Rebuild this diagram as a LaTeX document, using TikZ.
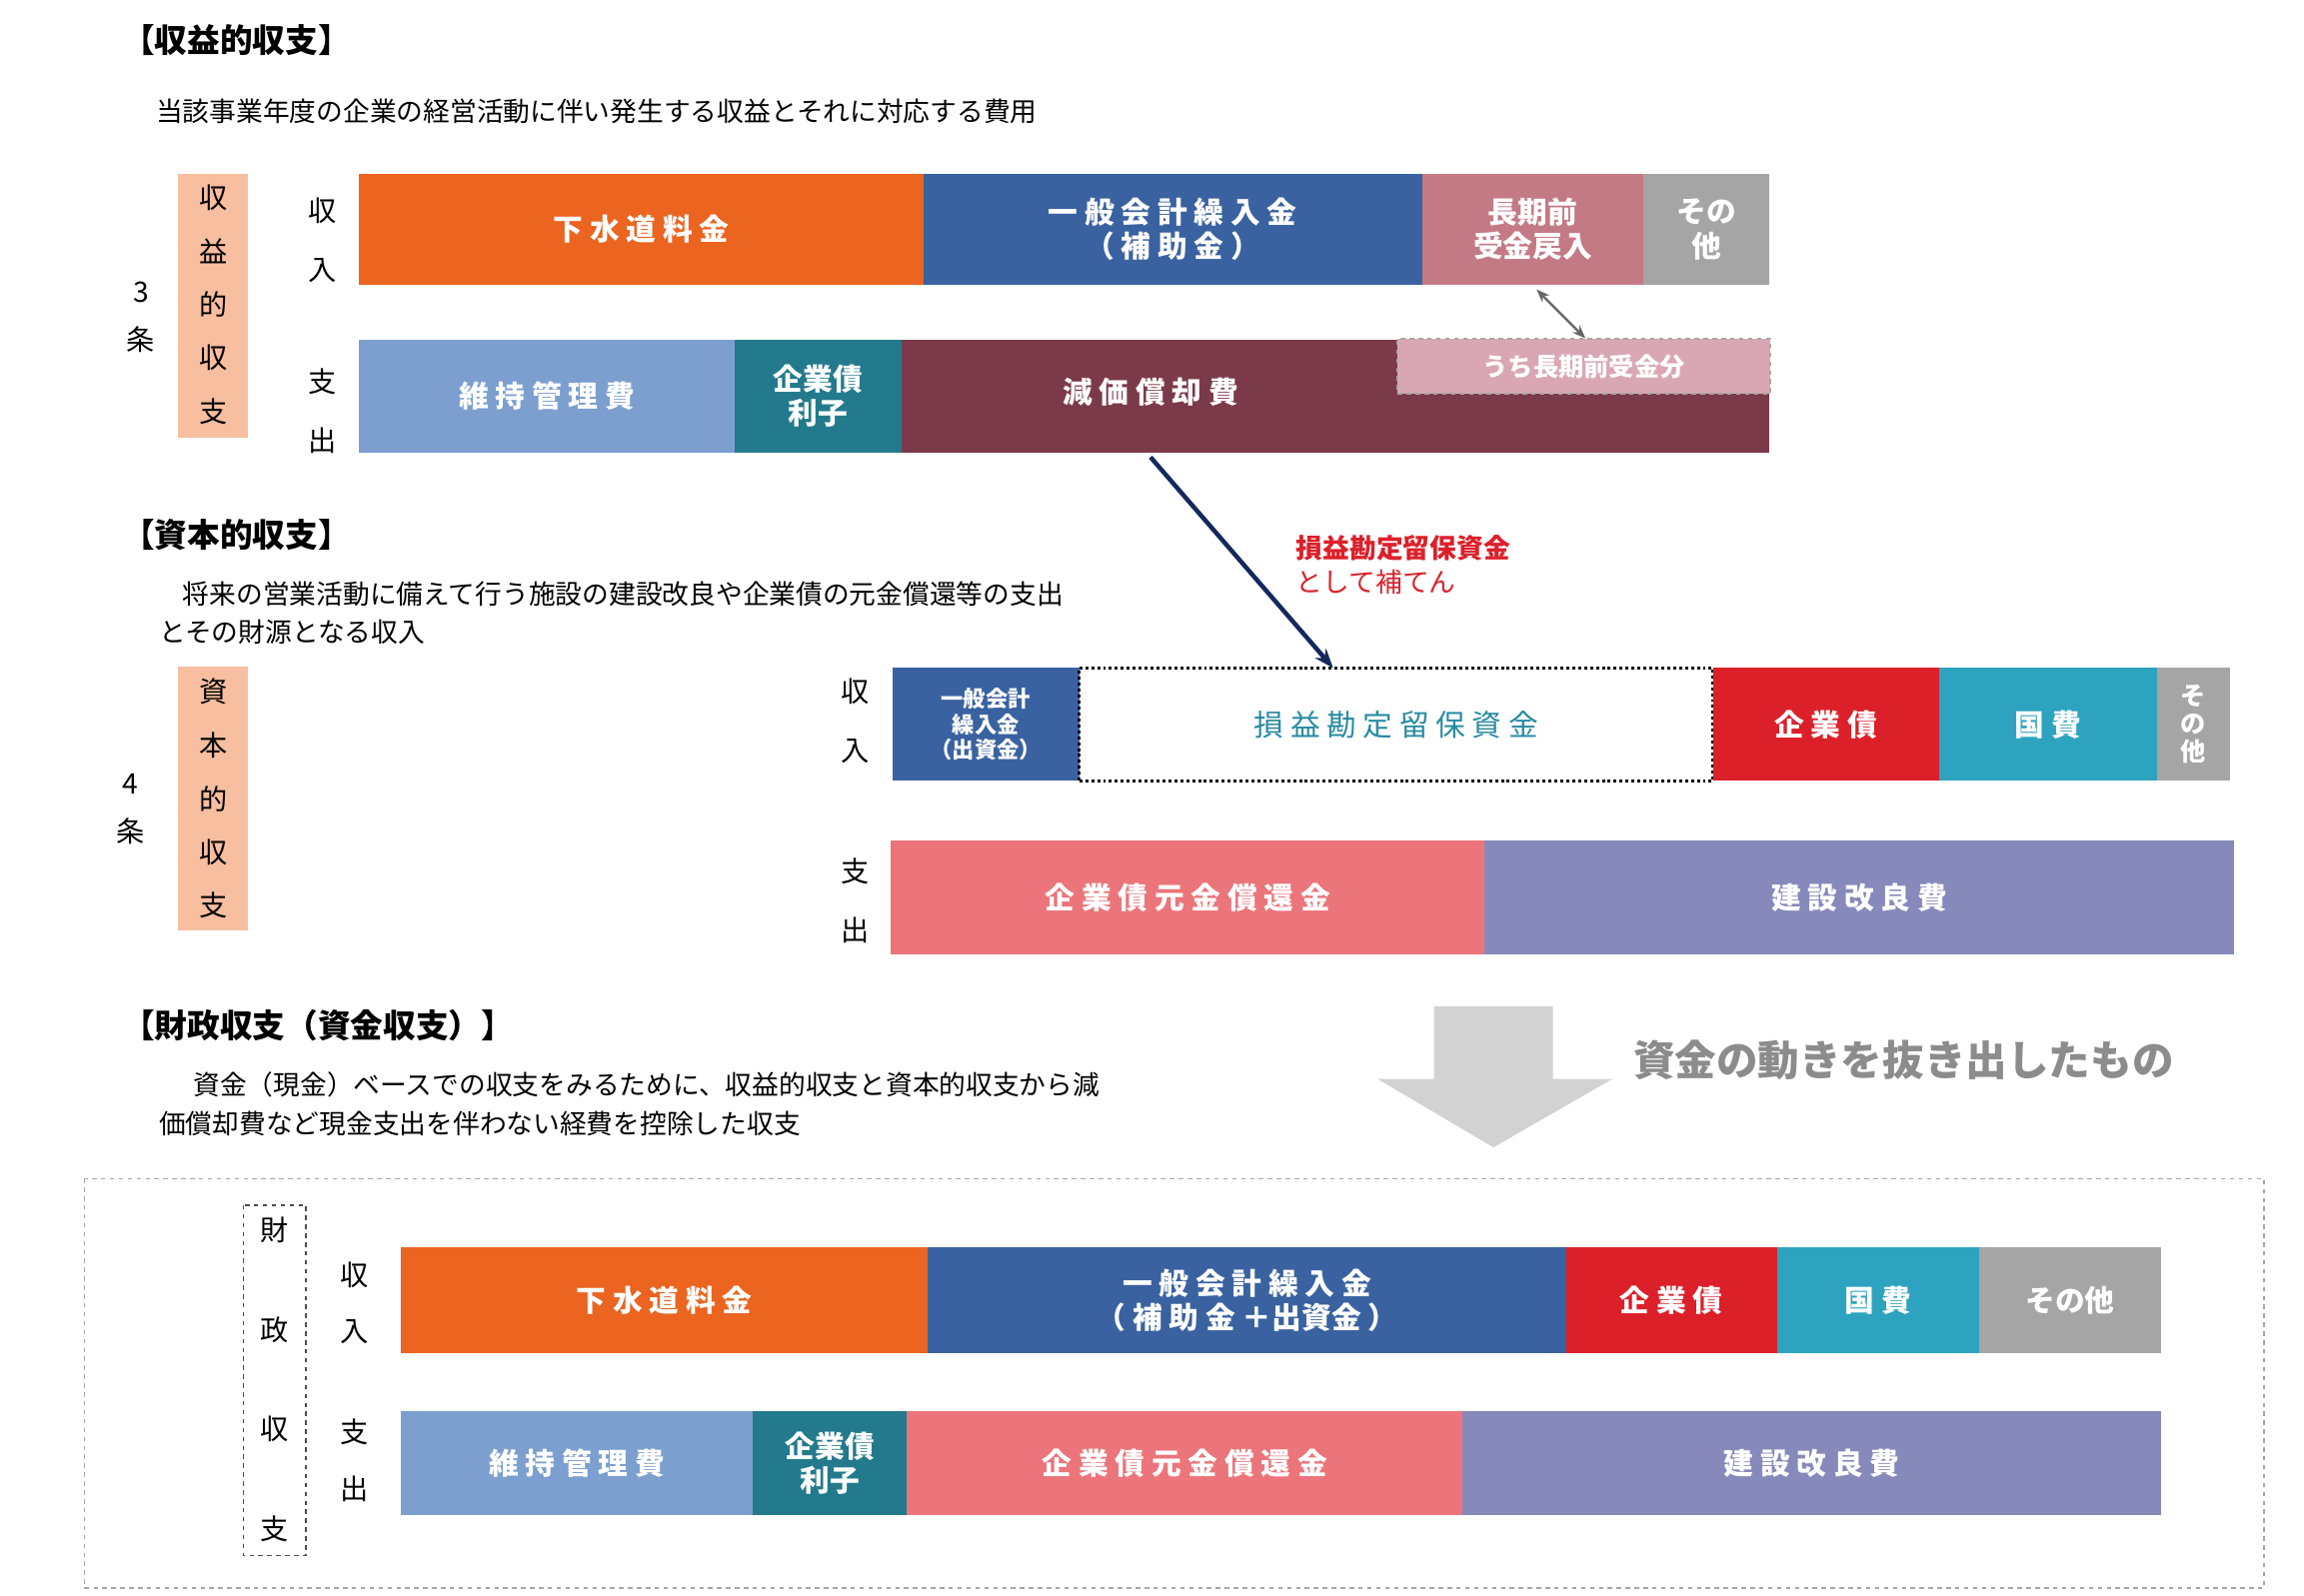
\documentclass[tikz,border=0pt]{standalone}
\usepackage{fontspec}
\setmainfont{Noto Sans CJK JP}
\usetikzlibrary{arrows.meta}
\definecolor{cOr}{HTML}{EB6420}\definecolor{cBl}{HTML}{3A62A0}\definecolor{cRo}{HTML}{C47A85}
\definecolor{cGr}{HTML}{A5A5A5}\definecolor{cLb}{HTML}{7C9FD0}\definecolor{cTe}{HTML}{237A8C}
\definecolor{cMa}{HTML}{7B3A4A}\definecolor{cPk}{HTML}{D9A7B3}\definecolor{cRe}{HTML}{DC202A}
\definecolor{cCy}{HTML}{2EA3BF}\definecolor{cSa}{HTML}{EB757A}\definecolor{cPu}{HTML}{8689BA}
\definecolor{cPe}{HTML}{F7BE9F}\definecolor{cNv}{HTML}{15285E}
\tikzset{bar/.style={draw=none,text=white,inner sep=0pt,align=center,font=\fontsize{20}{23}\selectfont\bfseries},
 lab/.style={inner sep=0pt,font=\fontsize{19}{22}\selectfont},
 ttl/.style={inner sep=0pt,anchor=west,font=\fontsize{22}{26}\selectfont\bfseries},
 txt/.style={inner sep=0pt,anchor=west,font=\fontsize{18}{22}\selectfont}}
\newcommand\blk[7]{\node[bar,fill=#6,minimum width={(#3-#2)*1pt},minimum height={(#5-#4)*1pt}] (#1) at ({(#2+#3)/2},{(#4+#5)/2}) {#7};}
\begin{document}
\begin{tikzpicture}[x=1pt,y=-1pt]
\useasboundingbox[fill=white] (0,0) rectangle (1552,1075);
% section 1
\node[ttl] (t1) at (82,27) {【収益的収支】};
\node[txt] (d1) at (105,75) {当該事業年度の企業の経営活動に伴い発生する収益とそれに対応する費用};
\node[fill=cPe,minimum width=47pt,minimum height=178pt,inner sep=0pt] (p1) at (143.5,206) {};
\foreach \c [count=\i] in {収,益,的,収,支} \node[lab] (p1c\i) at (143.5,{97+36*\i}) {\c};
\node[lab] (n3a) at (95,197) {3}; \node[lab] (n3b) at (95,229) {条};
\node[lab] (a1) at (217,142) {収}; \node[lab] (a2) at (217,182) {入};
\node[lab] (a3) at (217,257) {支}; \node[lab] (a4) at (217,297) {出};
\blk{r1a}{242}{622}{117}{192}{cOr}{下 水 道 料 金}
\blk{r1b}{622}{958}{117}{192}{cBl}{一 般 会 計 繰 入 金\\（ 補 助 金 ）}
\blk{r1c}{958}{1107}{117}{192}{cRo}{長期前\\受金戻入}
\blk{r1d}{1107}{1192}{117}{192}{cGr}{その\\他}
\blk{r2a}{242}{495}{229}{305}{cLb}{維 持 管 理 費}
\blk{r2b}{495}{607}{229}{305}{cTe}{企業債\\利子}
\blk{r2c}{607}{1192}{229}{305}{cMa}{}
\node[bar] (r2ct) at (775,264) {減 価 償 却 費};
\node[bar,fill=cPk,draw=gray!70,dashed,line width=1.2pt,minimum width=251pt,minimum height=37pt,font=\fontsize{17}{20}\selectfont\bfseries] (pk) at (1067,247) {うち長期前受金分};
\coordinate (da) at (1035,195); \coordinate (db) at (1068,228);
\draw[{Stealth[length=9pt]}-{Stealth[length=9pt]},line width=1.5pt,draw=gray!80!black] (da) -- (db);
% section 2
\coordinate (ns) at (775,308); \coordinate (ne) at (898,450);
\draw[-{Stealth[length=13pt]},line width=3pt,cNv] (ns) -- (ne);
\node[inner sep=0pt,anchor=west,text=cRe,font=\fontsize{18}{22}\selectfont\bfseries] (rl1) at (873,369) {損益勘定留保資金};
\node[inner sep=0pt,anchor=west,text=cRe,font=\fontsize{18}{22}\selectfont] (rl2) at (873,392) {として補てん};
\node[ttl] (t2) at (82,360) {【資本的収支】};
\node[txt] (d2a) at (123,400) {将来の営業活動に備えて行う施設の建設改良や企業債の元金償還等の支出};
\node[txt] (d2b) at (107,426) {とその財源となる収入};
\node[fill=cPe,minimum width=47pt,minimum height=178pt,inner sep=0pt] (p2) at (143.5,538) {};
\foreach \c [count=\i] in {資,本,的,収,支} \node[lab] (p2c\i) at (143.5,{430+36*\i}) {\c};
\node[lab] (n4a) at (88,528) {4}; \node[lab] (n4b) at (88,560) {条};
\node[lab] (b1) at (576,466) {収}; \node[lab] (b2) at (576,506) {入};
\node[lab] (b3) at (576,587) {支}; \node[lab] (b4) at (576,627) {出};
\node[bar,fill=cBl,minimum width=126pt,minimum height=76pt,font=\fontsize{15}{17}\selectfont\bfseries] (s1a) at (664,488) {一般会計\\繰入金\\（出資金）};
\node[bar,draw=black,dotted,line width=2pt,text=cCy!85!black,font=\fontsize{20}{23}\selectfont,minimum width=427pt,minimum height=76pt] (s1b) at (940.5,488) {損 益 勘 定 留 保 資 金};
\blk{s1c}{1154}{1306}{450}{526}{cRe}{企 業 債}
\blk{s1d}{1306}{1453}{450}{526}{cCy}{国 費}
\node[bar,fill=cGr,minimum width=49pt,minimum height=76pt,font=\fontsize{17}{19}\selectfont\bfseries] (s1e) at (1477.5,488) {そ\\の\\他};
\blk{s2a}{600}{1000}{566}{643}{cSa}{企 業 債 元 金 償 還 金}
\blk{s2b}{1000}{1505}{566}{643}{cPu}{建 設 改 良 費}
% section 3
\node[ttl] (t3) at (82,691) {【財政収支（資金収支）】};
\node[txt] (d3a) at (130,731) {資金（現金）ベースでの収支をみるために、収益的収支と資本的収支から減};
\node[txt] (d3b) at (107,757) {価償却費など現金支出を伴わない経費を控除した収支};
\fill[gray!35] (966,678) -- (1046,678) -- (1046,727) -- (1086,727) -- (1006,773) -- (928,727) -- (966,727) -- cycle;
\node[inner sep=0pt,anchor=west,text=gray!90,font=\fontsize{28}{32}\selectfont\bfseries] (mv) at (1100,714) {資金の動きを抜き出したもの};
\draw[gray!70,dashed,line width=1pt] (57,794) rectangle (1525,1070);
\draw[gray!60!black,dashed,line width=1.2pt] (164,812) rectangle (206,1048);
\foreach \c/\y [count=\i] in {財/829,政/896,収/963,支/1030} \node[lab] (fc\i) at (185,\y) {\c};
\node[lab] (c1) at (239,859) {収}; \node[lab] (c2) at (239,897) {入};
\node[lab] (c3) at (239,965) {支}; \node[lab] (c4) at (239,1003) {出};
\blk{f1a}{270}{625}{840}{912}{cOr}{下 水 道 料 金}
\blk{f1b}{625}{1055}{840}{912}{cBl}{一 般 会 計 繰 入 金\\（ 補 助 金 ＋出資金 ）}
\blk{f1c}{1055}{1197}{840}{912}{cRe}{企 業 債}
\blk{f1d}{1197}{1333}{840}{912}{cCy}{国 費}
\blk{f1e}{1333}{1456}{840}{912}{cGr}{その他}
\blk{f2a}{270}{507}{951}{1021}{cLb}{維 持 管 理 費}
\blk{f2b}{507}{611}{951}{1021}{cTe}{企業債\\利子}
\blk{f2c}{611}{985}{951}{1021}{cSa}{企 業 債 元 金 償 還 金}
\blk{f2d}{985}{1456}{951}{1021}{cPu}{建 設 改 良 費}
\end{tikzpicture}
\end{document}
